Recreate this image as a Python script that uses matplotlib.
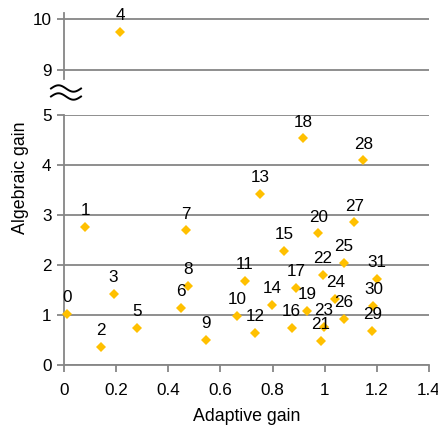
import matplotlib
matplotlib.use("Agg")
import matplotlib.pyplot as plt
import numpy as np
from matplotlib.ticker import FuncFormatter
from matplotlib.lines import Line2D

plt.rcParams['font.family'] = ['Liberation Sans', 'DejaVu Sans']

ids = list(range(32))
adaptive = [0.013, 0.082, 0.142, 0.19, 0.215, 0.28, 0.447, 0.467, 0.477, 0.545,
            0.664, 0.693, 0.734, 0.753, 0.797, 0.845, 0.873, 0.889, 0.916, 0.933,
            0.975, 0.986, 0.993, 0.997, 1.04, 1.073, 1.073, 1.113, 1.148, 1.182,
            1.187, 1.20]
algebraic = [1.03, 2.76, 0.36, 1.42, 9.75, 0.74, 1.15, 2.69, 1.59, 0.51,
             0.99, 1.68, 0.65, 3.42, 1.21, 2.28, 0.75, 1.55, 4.53, 1.09,
             2.63, 0.49, 1.80, 0.76, 1.33, 2.05, 0.93, 2.85, 4.09, 0.69,
             1.18, 1.73]

x_ticks = [0, 0.2, 0.4, 0.6, 0.8, 1.0, 1.2, 1.4]
y_ticks_low = [0, 1, 2, 3, 4, 5]
y_ticks_high = [9, 10]

W, H = 438, 425
fig = plt.figure(figsize=(W / 100, H / 100), dpi=100)

grid_c = '#868686'
mk_c = '#FFC000'
fs = 12.3

ax = fig.add_axes([64 / W, (H - 365) / H, 365 / W, 250 / H])
axt = fig.add_axes([64 / W, (H - 78.5) / H, 365 / W, 65.8 / H])

for a in (ax, axt):
    a.set_xlim(0, 1.4)
    a.set_facecolor('none')
    for s in ('top', 'right'):
        a.spines[s].set_visible(False)
    a.spines['left'].set_color(grid_c)
    a.spines['left'].set_linewidth(1.3)
    a.tick_params(axis='y', direction='out', length=5, width=1.3, color=grid_c,
                  labelsize=fs, pad=4, labelcolor='#000000')
    a.yaxis.grid(True, color=grid_c, linewidth=1.3)
    a.set_axisbelow(True)

ax.set_ylim(0, 5)
ax.set_yticks(y_ticks_low)
ax.set_xticks(x_ticks)
ax.xaxis.set_major_formatter(FuncFormatter(lambda v, p: f"{v:g}"))
ax.spines['bottom'].set_color(grid_c)
ax.spines['bottom'].set_linewidth(1.3)
ax.tick_params(axis='x', direction='out', length=5, width=1.3, color=grid_c,
               labelsize=fs, pad=8, labelcolor='#000000')

axt.set_ylim(8.83, 10.125)
axt.set_yticks(y_ticks_high)
axt.spines['bottom'].set_visible(False)
axt.set_xticks([])

for i, xv, yv in zip(ids, adaptive, algebraic):
    target = axt if yv > 5 else ax
    target.plot([xv], [yv], marker='D', markersize=4.8, color=mk_c,
                markeredgewidth=0, linestyle='none', clip_on=False, zorder=3)
    target.annotate(str(i), (xv, yv), xytext=(0, 8.5), textcoords='offset points',
                    ha='center', va='baseline', fontsize=fs, color='#000000',
                    zorder=4)

ax.set_xlabel('Adaptive gain', fontsize=fs + 0.5, labelpad=7)
fig.text(21 / W, 1 - 178 / H, 'Algebraic gain', rotation=90, fontsize=fs + 0.5,
         ha='center', va='center')

# break symbol (two waves)
t = np.linspace(0, 1, 60)
for yc in (88.5, 96.5):
    xs = 51 + 30 * t
    ys = yc - 3.2 * np.sin(2 * np.pi * t)
    fig.add_artist(Line2D(xs / W, 1 - ys / H, transform=fig.transFigure,
                          color='black', linewidth=1.4))

fig.savefig('out.png', dpi=100)
